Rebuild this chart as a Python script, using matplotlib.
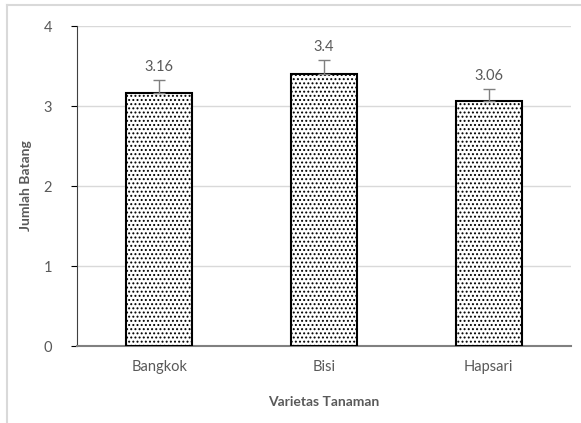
import matplotlib.pyplot as plt
from matplotlib.lines import Line2D

varietas = ["Bangkok", "Bisi", "Hapsari"]
jumlah = [3.16, 3.4, 3.06]
galat = [0.16, 0.17, 0.15]
label_nilai = ["3.16", "3.4", "3.06"]

plt.rcParams['font.family'] = ['Lato', 'DejaVu Sans']
plt.rcParams['hatch.linewidth'] = 0.9
teks = '#595959'

fig = plt.figure(figsize=(5.81, 4.23), dpi=100)
ax = fig.add_axes([77/581, 1 - 346/423, 494/581, 320/423])

x = range(len(varietas))
bars = ax.bar(x, jumlah, width=0.4, color='white', edgecolor='black',
              linewidth=1.5, hatch='....', zorder=3)
ax.errorbar(x, jumlah, yerr=[[0]*3, galat], fmt='none', ecolor='#7f7f7f',
            elinewidth=1, capsize=4, capthick=1, zorder=4)
for i, (v, e, s) in enumerate(zip(jumlah, galat, label_nilai)):
    ax.text(i, v + e + 0.08, s, ha='center', va='bottom', fontsize=10.5, color=teks)

ax.set_xlim(-0.5, 2.5)
ax.set_ylim(0, 4)
ax.set_yticks([0, 1, 2, 3, 4])
ax.yaxis.grid(True, color='#d9d9d9', linewidth=1, zorder=0)
ax.set_axisbelow(True)
for s in ['top', 'right']:
    ax.spines[s].set_visible(False)
ax.spines['left'].set_color('#404040')
ax.spines['bottom'].set_color('#808080')
ax.spines['bottom'].set_linewidth(1.5)
ax.tick_params(axis='y', length=4, color='black', labelcolor=teks, labelsize=10.5, pad=14)
ax.tick_params(axis='x', length=0, labelcolor=teks, labelsize=10.5, pad=10)
ax.set_xticks(list(x))
ax.set_xticklabels(varietas)

ax.set_ylabel("Jumlah Batang", fontsize=10, fontweight='bold', color=teks, labelpad=8)
ax.set_xlabel("Varietas Tanaman", fontsize=10, fontweight='bold', color=teks, labelpad=16)

# border of the chart area
fig.add_artist(Line2D([7/581, 1], [1 - 5/423]*2, color='#d9d9d9', linewidth=1.5, transform=fig.transFigure))
fig.add_artist(Line2D([7/581]*2, [0, 1 - 5/423], color='#d9d9d9', linewidth=1.5, transform=fig.transFigure))

fig.savefig("out.png", dpi=100)
